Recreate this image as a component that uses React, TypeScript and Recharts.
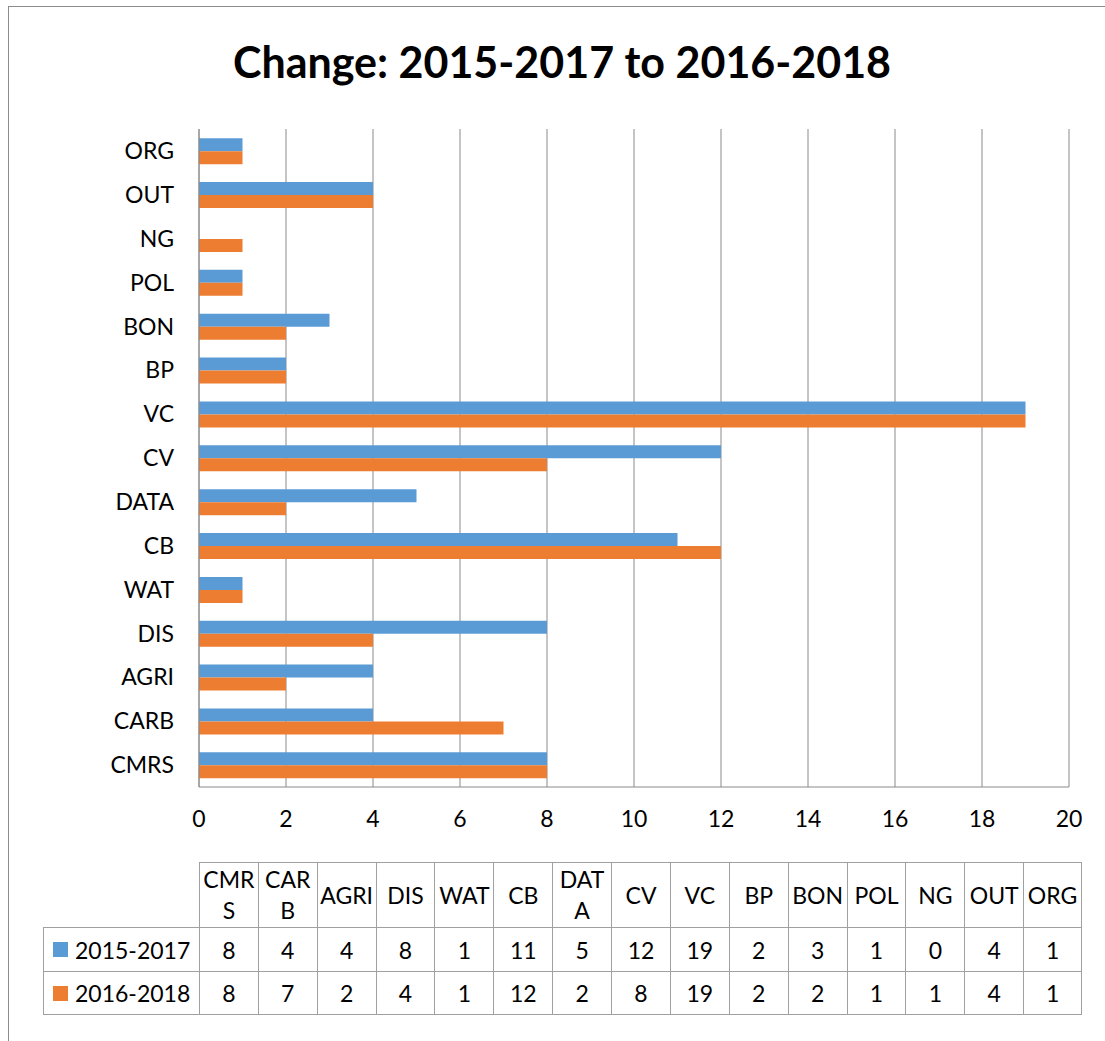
import { BarChart, Bar, XAxis, YAxis, CartesianGrid } from "recharts";

const categories = ["CMRS", "CARB", "AGRI", "DIS", "WAT", "CB", "DATA", "CV", "VC", "BP", "BON", "POL", "NG", "OUT", "ORG"];
const headerLabels = ["CMR\nS", "CAR\nB", "AGRI", "DIS", "WAT", "CB", "DAT\nA", "CV", "VC", "BP", "BON", "POL", "NG", "OUT", "ORG"];
const seriesA = [8, 4, 4, 8, 1, 11, 5, 12, 19, 2, 3, 1, 0, 4, 1];
const seriesB = [8, 7, 2, 4, 1, 12, 2, 8, 19, 2, 2, 1, 1, 4, 1];
const seriesNames = ["2015-2017", "2016-2018"];
const xTicks = [0, 2, 4, 6, 8, 10, 12, 14, 16, 18, 20];

const BLUE = "#5B9BD5";
const ORANGE = "#ED7D31";
const GRID = "#8a8a8a";
const FONT = "Lato, 'Open Sans', sans-serif";
const FS = 23;

const data = categories.map((c, i) => ({
  name: c,
  [seriesNames[0]]: seriesA[i],
  [seriesNames[1]]: seriesB[i],
}));

// table geometry
const TX = 199;
const TRIGHT = 1082;
const COLW = (TRIGHT - TX) / categories.length;
const LEFTX = 43;
const ROWS = [862, 927, 971, 1015];
const LINE = "1px solid #a0a0a0";

function DataTable() {
  const rows = [seriesA, seriesB];
  const colors = [BLUE, ORANGE];
  const cells: any[] = [];
  headerLabels.forEach((h, i) => {
    cells.push(
      <div
        key={"h" + i}
        style={{
          position: "absolute",
          left: TX + i * COLW,
          top: ROWS[0],
          width: COLW,
          height: ROWS[1] - ROWS[0],
          borderLeft: LINE,
          borderTop: LINE,
          borderRight: i === headerLabels.length - 1 ? LINE : undefined,
          boxSizing: "border-box",
          display: "flex",
          alignItems: "center",
          justifyContent: "center",
          textAlign: "center",
          whiteSpace: "pre-line",
          lineHeight: "31px",
          fontSize: FS,
        }}
      >
        {h}
      </div>
    );
  });
  rows.forEach((vals, r) => {
    const top = ROWS[r + 1];
    const h = ROWS[r + 2] - top;
    cells.push(
      <div
        key={"l" + r}
        style={{
          position: "absolute",
          left: LEFTX,
          top,
          width: TX - LEFTX,
          height: h,
          borderLeft: LINE,
          borderTop: LINE,
          borderBottom: r === 1 ? LINE : undefined,
          boxSizing: "border-box",
          display: "flex",
          alignItems: "center",
          fontSize: FS,
        }}
      >
        <span style={{ display: "inline-block", width: 15, height: 15, background: colors[r], marginLeft: 9, marginRight: 7 }} />
        {seriesNames[r]}
      </div>
    );
    vals.forEach((v, i) => {
      cells.push(
        <div
          key={"c" + r + "-" + i}
          style={{
            position: "absolute",
            left: TX + i * COLW,
            top,
            width: COLW,
            height: h,
            borderLeft: LINE,
            borderTop: LINE,
            borderRight: i === vals.length - 1 ? LINE : undefined,
            borderBottom: r === 1 ? LINE : undefined,
            boxSizing: "border-box",
            display: "flex",
            alignItems: "center",
            justifyContent: "center",
            fontSize: FS,
          }}
        >
          {v}
        </div>
      );
    });
  });
  return <>{cells}</>;
}

export default function App() {
  return (
    <div style={{ position: "relative", width: 1105, height: 1041, overflow: "hidden", fontFamily: FONT, color: "#000", background: "#fff" }}>
      <style>{"body{margin:0;}"}</style>
      <div style={{ position: "absolute", left: 8, top: 6, width: 1200, height: 1200, borderLeft: "1px solid #8c8c8c", borderTop: "1px solid #8c8c8c" }} />
      <div
        style={{
          position: "absolute",
          left: 0,
          width: 1124,
          top: 40,
          textAlign: "center",
          fontSize: 43,
          lineHeight: "43px",
          fontWeight: 700,
        }}
      >
        Change: 2015-2017 to 2016-2018
      </div>
      <div style={{ position: "absolute", left: 0, top: 0 }}>
        <BarChart
          width={1105}
          height={850}
          data={data}
          layout="vertical"
          margin={{ top: 129, right: 36, left: 9, bottom: 3 }}
          barCategoryGap="21%"
          barGap={0}
        >
          <CartesianGrid horizontal={false} vertical={true} stroke={GRID} strokeWidth={1} />
          <XAxis
            type="number"
            domain={[0, 20]}
            ticks={xTicks}
            height={60}
            tickSize={0}
            tickMargin={24}
            axisLine={{ stroke: GRID }}
            tickLine={false}
            tick={{ fill: "#000", fontSize: FS, fontFamily: FONT }}
          />
          <YAxis
            type="category"
            dataKey="name"
            reversed
            width={190}
            tickSize={0}
            tickMargin={25}
            axisLine={{ stroke: GRID }}
            tickLine={false}
            interval={0}
            tick={{ fill: "#000", fontSize: FS, fontFamily: FONT }}
          />
          <Bar dataKey={seriesNames[0]} fill={BLUE} isAnimationActive={false} />
          <Bar dataKey={seriesNames[1]} fill={ORANGE} isAnimationActive={false} />
        </BarChart>
      </div>
      <DataTable />
    </div>
  );
}
